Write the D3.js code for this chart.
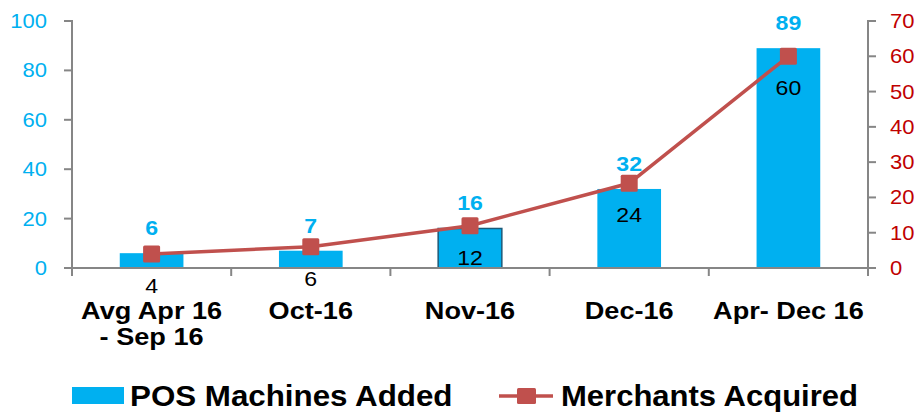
<!DOCTYPE html>
<html>
<head>
<meta charset="utf-8">
<script src="https://cdn.jsdelivr.net/npm/d3@7"></script>
<style>
  body { margin: 0; background: #fff; }
  svg { display: block; font-family: "Liberation Sans", Arial, sans-serif; }
</style>
</head>
<body>
<svg id="chart" width="921" height="413"></svg>
<script>
// chart data
var categories = [["Avg Apr 16", "- Sep 16"], ["Oct-16"], ["Nov-16"], ["Dec-16"], ["Apr- Dec 16"]];
var posMachines = [6, 7, 16, 32, 89];
var merchants = [4, 6, 12, 24, 60];
var leftTicks = [0, 20, 40, 60, 80, 100];
var rightTicks = [0, 10, 20, 30, 40, 50, 60, 70];

var blue = "#00B0F0", red = "#C0504D", darkRed = "#C00000", grey = "#868686";
var SX = 1.1; // the picture is a bit wider than tall, text too

var svg = d3.select("#chart");

var x = d3.scaleBand()
    .domain(d3.range(categories.length))
    .range([72, 868])
    .paddingInner(0.6)
    .paddingOuter(0.3);
var yL = d3.scaleLinear().domain([0, 100]).range([268, 21]);
var yR = d3.scaleLinear().domain([0, 70]).range([268, 21]);

function cx(i) { return x(i) + x.bandwidth() / 2; }

// stretched text helper
function label(x0, y0, str, size, opts) {
    opts = opts || {};
    return svg.append("text")
        .attr("transform", "translate(" + x0 + "," + y0 + ") scale(" + (opts.sx || SX) + ",1)")
        .attr("text-anchor", opts.anchor || "middle")
        .style("font-size", size + "px")
        .style("font-weight", opts.bold ? "bold" : "normal")
        .style("fill", opts.color || "#000")
        .text(str);
}

// bars
svg.selectAll(".bar").data(posMachines).enter().append("rect")
    .classed("bar", true)
    .attr("x", function (d, i) { return x(i); })
    .attr("y", function (d) { return yL(d); })
    .attr("width", x.bandwidth())
    .attr("height", function (d) { return yL(0) - yL(d); })
    .style("fill", blue)
    .style("stroke", function (d, i) { return i === 2 ? "#1d5a78" : "none"; })
    .style("stroke-width", 1.5);

// bar value labels
posMachines.forEach(function (d, i) {
    label(cx(i), yL(d) - 18, d, 21, {bold: true, color: blue});
});

// merchant value labels
merchants.forEach(function (d, i) {
    label(cx(i), yR(d) + 39, d, 21);
});

// axes
svg.append("line").attr("x1", 72).attr("x2", 868).attr("y1", 268).attr("y2", 268)
    .style("stroke", grey).style("stroke-width", 2);
svg.append("line").attr("x1", 72).attr("x2", 72).attr("y1", 20).attr("y2", 268)
    .style("stroke", grey).style("stroke-width", 2);
svg.append("line").attr("x1", 868).attr("x2", 868).attr("y1", 20).attr("y2", 268)
    .style("stroke", grey).style("stroke-width", 2);

leftTicks.forEach(function (t) {
    svg.append("line").attr("x1", 64).attr("x2", 72).attr("y1", yL(t)).attr("y2", yL(t))
        .style("stroke", grey).style("stroke-width", 2);
    label(47, yL(t) + 7, t, 20, {anchor: "end", color: blue});
});
rightTicks.forEach(function (t) {
    svg.append("line").attr("x1", 868).attr("x2", 876).attr("y1", yR(t)).attr("y2", yR(t))
        .style("stroke", grey).style("stroke-width", 2);
    label(890, yR(t) + 7, t, 20, {anchor: "start", color: darkRed});
});

// category boundary ticks
d3.range(categories.length + 1).forEach(function (i) {
    var bx = 72 + i * x.step();
    svg.append("line").attr("x1", bx).attr("x2", bx).attr("y1", 268).attr("y2", 276)
        .style("stroke", grey).style("stroke-width", 2);
});

// category labels
categories.forEach(function (lines, i) {
    lines.forEach(function (s, j) {
        label(cx(i), 319 + j * 26, s, 24, {bold: true, sx: 1.13});
    });
});

// merchants line
var line = d3.line()
    .x(function (d, i) { return cx(i); })
    .y(function (d) { return yR(d); });

svg.append("path").datum(merchants)
    .attr("d", line)
    .style("fill", "none")
    .style("stroke", red)
    .style("stroke-width", 3.5);

svg.selectAll(".marker").data(merchants).enter().append("rect")
    .classed("marker", true)
    .attr("x", function (d, i) { return cx(i) - 8.5; })
    .attr("y", function (d) { return yR(d) - 8.5; })
    .attr("width", 17)
    .attr("height", 17)
    .attr("rx", 1.5)
    .style("fill", red);

// legend
svg.append("rect").attr("x", 72).attr("y", 387).attr("width", 52).attr("height", 17)
    .style("fill", blue);
label(130, 406, "POS Machines Added", 29, {anchor: "start", bold: true, sx: 1.08});

svg.append("line").attr("x1", 499).attr("x2", 553).attr("y1", 396).attr("y2", 396)
    .style("stroke", red).style("stroke-width", 3.5);
svg.append("rect").attr("x", 517).attr("y", 388).attr("width", 19).attr("height", 16)
    .attr("rx", 1.5).style("fill", red);
label(561, 406, "Merchants Acquired", 29, {anchor: "start", bold: true, sx: 1.07});
</script>
</body>
</html>
